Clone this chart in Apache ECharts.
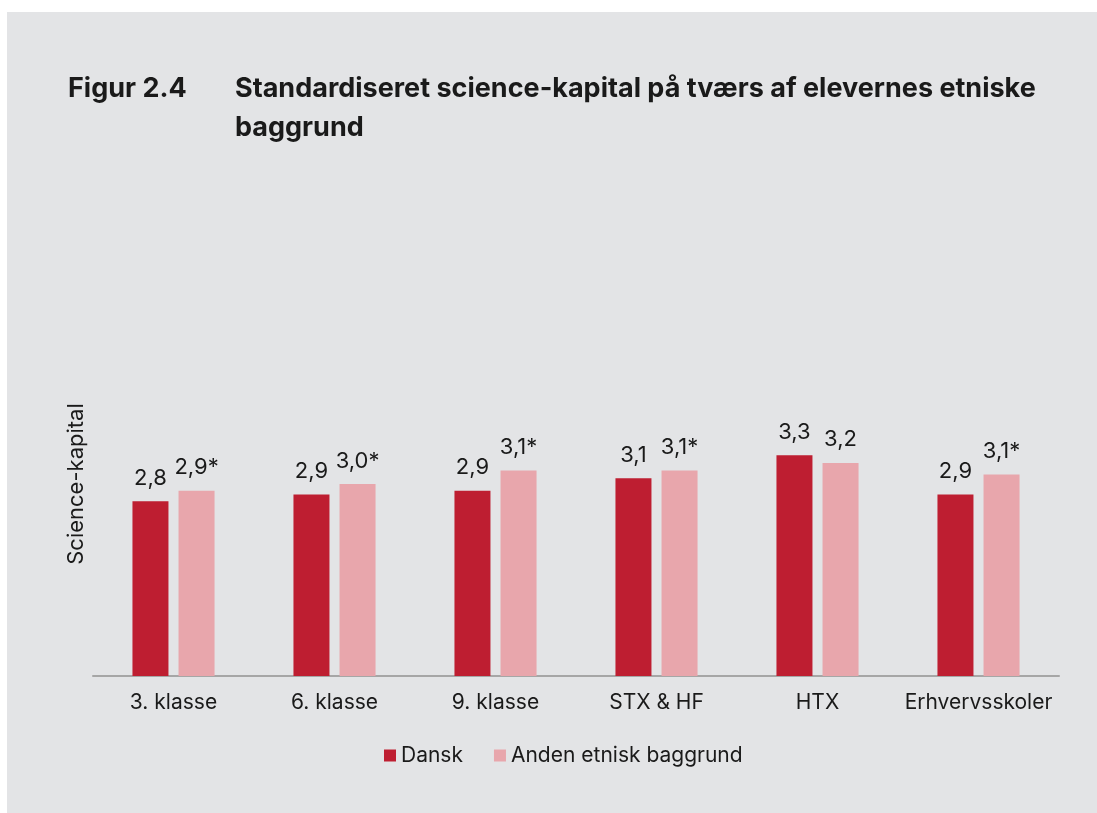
<!DOCTYPE html>
<html>
<head>
<meta charset="utf-8">
<script src="https://cdn.jsdelivr.net/npm/echarts@6/dist/echarts.min.js"></script>
<style>
  html, body { margin: 0; padding: 0; background: #ffffff; }
  #chart { position: absolute; left: 7px; top: 12px; width: 1090px; height: 801px; }
</style>
</head>
<body>
<div id="chart"></div>
<script>
// kategorier og værdier
const categories = ["3. klasse", "6. klasse", "9. klasse", "STX & HF", "HTX", "Erhvervsskoler"];
const seriesNames = ["Dansk", "Anden etnisk baggrund"];
const danskValues = [2.82, 2.89, 2.93, 3.06, 3.30, 2.89];
const andenValues = [2.93, 3.00, 3.14, 3.14, 3.22, 3.10];
const danskLabels = ["2,8", "2,9", "2,9", "3,1", "3,3", "2,9"];
const andenLabels = ["2,9*", "3,0*", "3,1*", "3,1*", "3,2", "3,1*"];

const FONT = "Inter, 'Noto Sans', sans-serif";
const TXT = "#1a1a1a";

const chart = echarts.init(document.getElementById("chart"));

function barSeries(name, values, labels, color) {
  return {
    name: name,
    type: "bar",
    barWidth: 36,
    barGap: "28%",
    data: values,
    itemStyle: { color: color },
    label: {
      show: true,
      position: "top",
      distance: 12,
      fontFamily: FONT,
      fontSize: 22,
      color: TXT,
      formatter: p => labels[p.dataIndex]
    }
  };
}

chart.setOption({
  backgroundColor: "#e3e4e6",
  animation: false,
  textStyle: { fontFamily: FONT },
  title: [
    {
      text: "Figur 2.4",
      left: 61,
      top: 57,
      padding: 0,
      textStyle: { fontFamily: FONT, fontSize: 27, fontWeight: "bold", color: TXT, lineHeight: 39 }
    },
    {
      text: "Standardiseret science-kapital på tværs af elevernes etniske\nbaggrund",
      left: 228,
      top: 57,
      padding: 0,
      textStyle: { fontFamily: FONT, fontSize: 27, fontWeight: "bold", color: TXT, lineHeight: 39 }
    }
  ],
  legend: {
    left: 377,
    top: 733,
    padding: 0,
    itemWidth: 12,
    itemHeight: 12,
    itemGap: 31,
    icon: "rect",
    textStyle: { fontFamily: FONT, fontSize: 21, color: TXT },
    data: seriesNames
  },
  grid: {
    left: 86,
    right: 38,
    top: 280,
    bottom: 137
  },
  xAxis: {
    type: "category",
    data: categories,
    axisLine: { lineStyle: { color: "#a6a6a6", width: 2 } },
    axisTick: { show: false },
    axisLabel: { interval: 0, fontFamily: FONT, fontSize: 21, color: TXT, margin: 16 }
  },
  yAxis: {
    type: "value",
    min: 1,
    max: 5,
    name: "Science-kapital",
    nameLocation: "middle",
    nameGap: 6,
    nameTextStyle: { fontFamily: FONT, fontSize: 22, color: TXT },
    axisLine: { show: false },
    axisTick: { show: false },
    axisLabel: { show: false },
    splitLine: { show: false }
  },
  series: [
    barSeries(seriesNames[0], danskValues, danskLabels, "#be1e31"),
    barSeries(seriesNames[1], andenValues, andenLabels, "#e8a6ac")
  ]
});
</script>
</body>
</html>
